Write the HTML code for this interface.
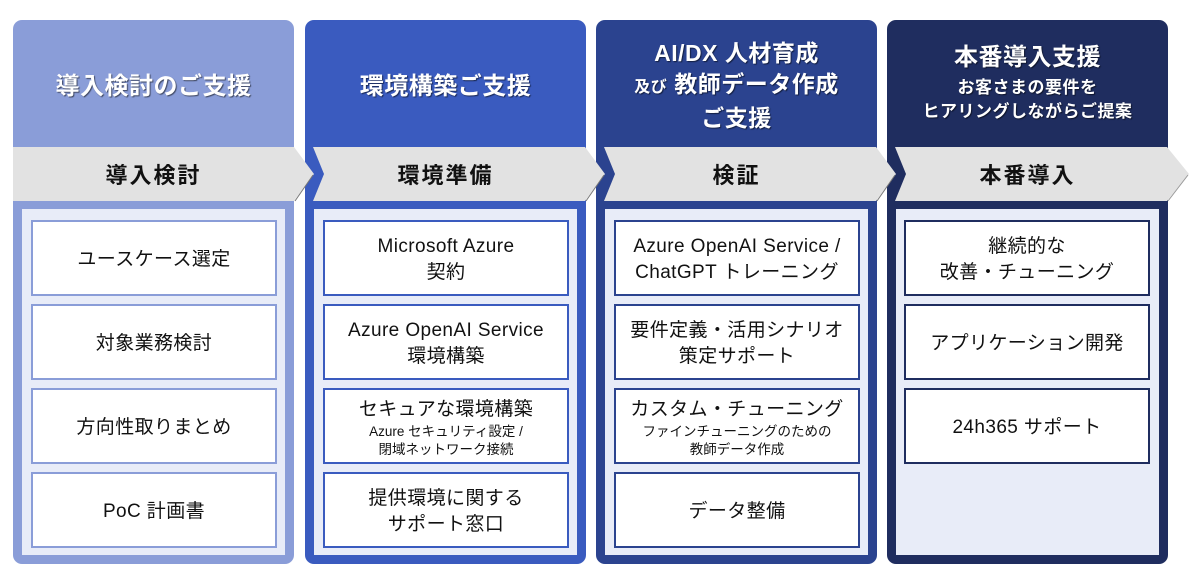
<!DOCTYPE html>
<html><head><meta charset="utf-8"><style>
*{margin:0;padding:0;box-sizing:border-box}
body{width:1200px;height:585px;background:#fff;position:relative;overflow:hidden;font-family:"Liberation Sans","Noto Sans CJK JP",sans-serif}
.col{position:absolute;top:20px;width:281px;height:544px;border-radius:9px}
.hd{position:absolute;left:0;top:0;width:281px;height:127px;display:flex;flex-direction:column;align-items:center;justify-content:center;color:#fff;font-weight:bold;text-shadow:1px 1px 1px rgba(0,0,0,.55);text-align:center;letter-spacing:.5px}
.panel{position:absolute;left:9px;top:189px;width:263px;height:346px;background:#e8ecf8}
.box{position:absolute;left:18px;width:246px;height:76px;background:#fff;border:2px solid;display:flex;flex-direction:column;align-items:center;justify-content:center;text-align:center;font-size:19px;line-height:26px;color:#111;letter-spacing:.4px;padding-top:4px}
.box .s{font-size:13.5px;line-height:18px;letter-spacing:0}
svg{position:absolute;left:0;top:0}
.bn{position:absolute;top:147px;height:54px;width:281px;display:flex;align-items:center;justify-content:center;font-weight:bold;font-size:22px;color:#111;letter-spacing:2px}
</style></head><body>

<div class="col" style="left:13px;background:#8a9dd8"><div class="hd" style="font-size:24px">導入検討のご支援</div><div class="panel"></div></div>
<div class="col" style="left:305px;background:#3a5bbf"><div class="hd" style="font-size:24px">環境構築ご支援</div><div class="panel"></div></div>
<div class="col" style="left:596px;background:#2b438f"><div class="hd" style="font-size:23px;line-height:31px;padding-top:4px"><div>AI/DX 人材育成</div><div><span style="font-size:16px">及び</span> 教師データ作成</div><div>ご支援</div></div><div class="panel"></div></div>
<div class="col" style="left:887px;background:#1f2d5f"><div class="hd"><div style="font-size:24px;line-height:30px">本番導入支援</div><div style="font-size:17px;line-height:24px;margin-top:3px">お客さまの要件を<br>ヒアリングしながらご提案</div></div><div class="panel"></div></div>

<svg width="1200" height="585">
<polygon points="13,147 294,147 314,174 294,201 13,201" fill="#e2e2e2"/>
<polygon points="313,147 585,147 605,174 585,201 313,201 324,174" fill="#e2e2e2"/>
<polygon points="604,147 876,147 896,174 876,201 604,201 615,174" fill="#e2e2e2"/>
<polygon points="895,147 1167,147 1189,174 1167,201 895,201 906,174" fill="#e2e2e2"/>
<line x1="313" y1="175" x2="295" y2="201" stroke="#777" stroke-width="1"/>
<line x1="604" y1="175" x2="586" y2="201" stroke="#777" stroke-width="1"/>
<line x1="895" y1="175" x2="877" y2="201" stroke="#777" stroke-width="1"/>
<line x1="1188" y1="175" x2="1168" y2="201" stroke="#999" stroke-width="1"/>
</svg>
<div class="bn" style="left:13px">導入検討</div>
<div class="bn" style="left:305px">環境準備</div>
<div class="bn" style="left:596px">検証</div>
<div class="bn" style="left:887px">本番導入</div>

<div style="position:absolute;left:13px;top:0">
<div class="box" style="top:220px;border-color:#8a9dd8">ユースケース選定</div>
<div class="box" style="top:304px;border-color:#8a9dd8">対象業務検討</div>
<div class="box" style="top:388px;border-color:#8a9dd8">方向性取りまとめ</div>
<div class="box" style="top:472px;border-color:#8a9dd8">PoC 計画書</div>
</div>
<div style="position:absolute;left:305px;top:0">
<div class="box" style="top:220px;border-color:#3a5bbf">Microsoft Azure<br>契約</div>
<div class="box" style="top:304px;border-color:#3a5bbf">Azure OpenAI Service<br>環境構築</div>
<div class="box" style="top:388px;border-color:#3a5bbf"><div>セキュアな環境構築</div><div class="s">Azure セキュリティ設定 /<br>閉域ネットワーク接続</div></div>
<div class="box" style="top:472px;border-color:#3a5bbf">提供環境に関する<br>サポート窓口</div>
</div>
<div style="position:absolute;left:596px;top:0">
<div class="box" style="top:220px;border-color:#2b438f">Azure OpenAI Service /<br>ChatGPT トレーニング</div>
<div class="box" style="top:304px;border-color:#2b438f">要件定義・活用シナリオ<br>策定サポート</div>
<div class="box" style="top:388px;border-color:#2b438f"><div>カスタム・チューニング</div><div class="s">ファインチューニングのための<br>教師データ作成</div></div>
<div class="box" style="top:472px;border-color:#2b438f">データ整備</div>
</div>
<div style="position:absolute;left:886px;top:0">
<div class="box" style="top:220px;border-color:#1f2d5f">継続的な<br>改善・チューニング</div>
<div class="box" style="top:304px;border-color:#1f2d5f">アプリケーション開発</div>
<div class="box" style="top:388px;border-color:#1f2d5f">24h365 サポート</div>
</div>
</body></html>
